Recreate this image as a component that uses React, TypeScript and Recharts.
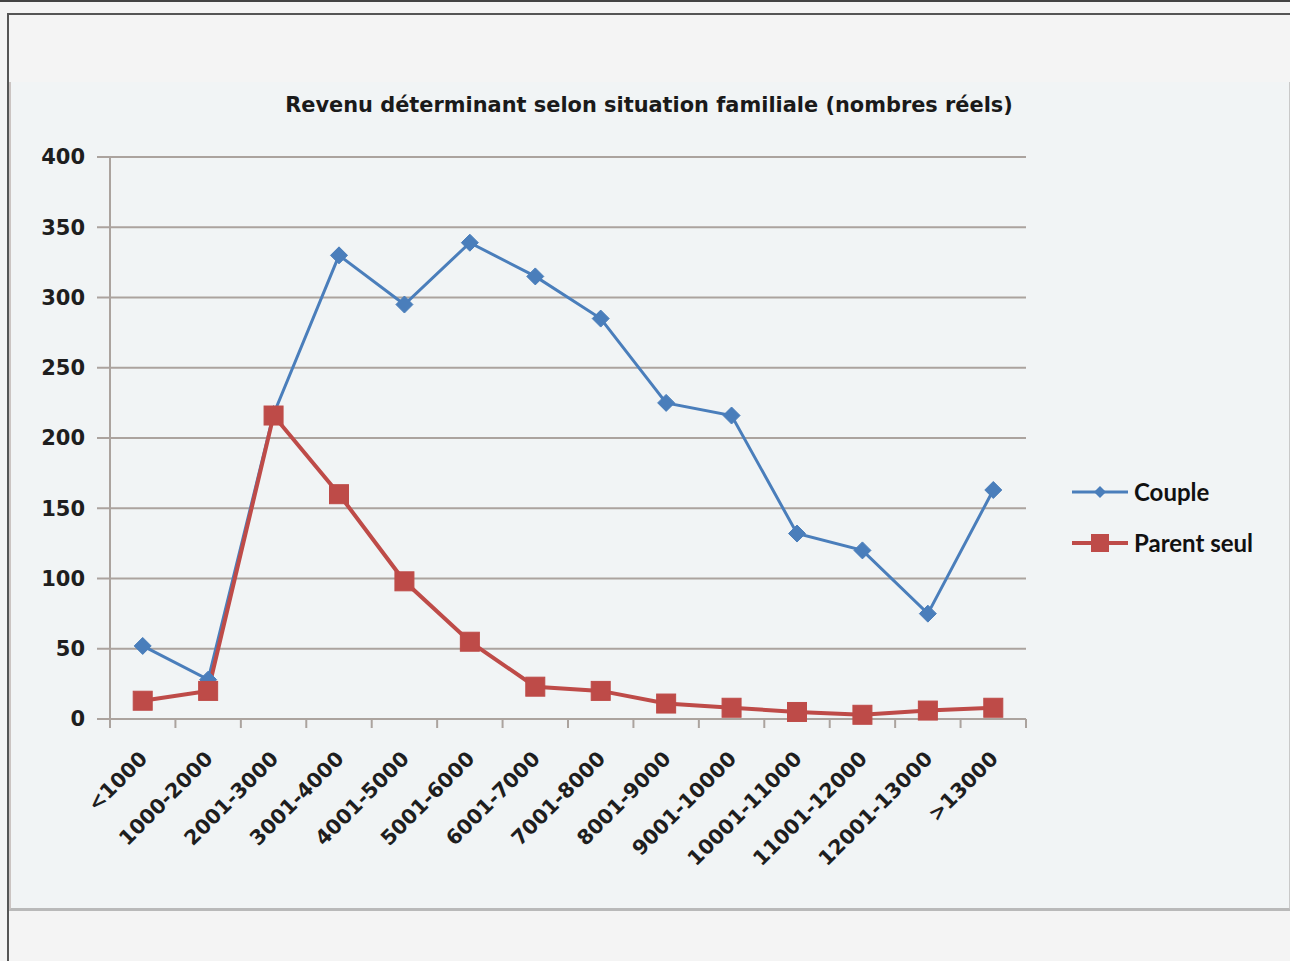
import React from 'react';
import { ComposedChart, Line, XAxis, YAxis, CartesianGrid, Legend } from 'recharts';

// Income brackets (CHF) on the horizontal axis
const categories = [
  '<1000', '1000-2000', '2001-3000', '3001-4000', '4001-5000', '5001-6000', '6001-7000',
  '7001-8000', '8001-9000', '9001-10000', '10001-11000', '11001-12000', '12001-13000', '>13000',
];
// Number of households per bracket
const couple = [52, 28, 217, 330, 295, 339, 315, 285, 225, 216, 132, 120, 75, 163];
const parentSeul = [13, 20, 216, 160, 98, 55, 23, 20, 11, 8, 5, 3, 6, 8];
const yTicks = [0, 50, 100, 150, 200, 250, 300, 350, 400];
// Bracket boundaries, used only for the tick marks under the axis
const edgeTicks = [0, 1, 2, 3, 4, 5, 6, 7, 8, 9, 10, 11, 12, 13, 14];

const BLUE = '#4a7ebb';
const RED = '#be4b48';
const GRID = '#aba39e';
const FONT = "'DejaVu Sans', Verdana, sans-serif";

const data = categories.map((cat, i) => ({
  cat,
  slot: i + 0.5,
  couple: couple[i],
  parentSeul: parentSeul[i],
}));

const Diamond = (props: any) => {
  const { cx, cy } = props;
  if (cx == null || cy == null) return null;
  const r = 8.5;
  return (
    <polygon
      points={`${cx},${cy - r} ${cx + r},${cy} ${cx},${cy + r} ${cx - r},${cy}`}
      fill={BLUE}
      stroke={BLUE}
      strokeWidth={1}
    />
  );
};

const Square = (props: any) => {
  const { cx, cy } = props;
  if (cx == null || cy == null) return null;
  const s = 19;
  return <rect x={cx - s / 2} y={cy - s / 2} width={s} height={s} fill={RED} stroke={RED} strokeWidth={1} />;
};

const NoLabel = () => null;

const CatTick = (props: any) => {
  const { x, y, payload } = props;
  const ax = x + 6;
  const ay = y + 32;
  return (
    <text
      x={ax}
      y={ay}
      transform={`rotate(-45, ${ax}, ${ay})`}
      textAnchor="end"
      fontFamily={FONT}
      fontWeight="bold"
      fontSize={20.5}
      fill="#1e1e1e"
    >
      {payload.value}
    </text>
  );
};

const LegendBox = (props: any) => {
  const { payload } = props;
  return (
    <div style={{ fontFamily: 'Lato, sans-serif', fontWeight: 700, fontSize: 24, color: '#111' }}>
      {(payload || []).map((p: any) => {
        const isCouple = p.dataKey === 'couple';
        return (
          <div key={p.dataKey} style={{ display: 'flex', alignItems: 'center', height: 51 }}>
            <svg width={62} height={24} style={{ display: 'block' }}>
              <line x1={0} y1={12} x2={56} y2={12} stroke={p.color} strokeWidth={isCouple ? 3 : 4} />
              {isCouple ? (
                <polygon points="28,6 34,12 28,18 22,12" fill={p.color} />
              ) : (
                <rect x={19} y={3} width={18} height={18} fill={p.color} />
              )}
            </svg>
            <span style={{ lineHeight: 1 }}>{p.value}</span>
          </div>
        );
      })}
    </div>
  );
};

export default function App() {
  return (
    <div
      style={{
        position: 'absolute',
        left: 0,
        top: 0,
        width: 1290,
        height: 961,
        background: '#f4f4f4',
        overflow: 'hidden',
      }}
    >
      <div style={{ position: 'absolute', left: 0, top: 0, width: 1290, height: 2, background: '#444' }} />
      <div style={{ position: 'absolute', left: 8, top: 13, width: 1282, height: 2, background: '#555' }} />
      <div style={{ position: 'absolute', left: 7, top: 13, width: 2, height: 948, background: '#555' }} />
      <div
        style={{
          position: 'absolute',
          left: 9,
          top: 82,
          width: 1278,
          height: 826,
          background: '#f1f4f5',
          borderRight: '3px solid #c9c9c9',
          borderBottom: '3px solid #b9b9b9',
          borderLeft: '2px solid #cbc4c2',
        }}
      >
        <div
          style={{
            position: 'absolute',
            left: 0,
            top: 11,
            width: 1280,
            textAlign: 'center',
            fontFamily: FONT,
            fontWeight: 'bold',
            fontSize: 20.9,
            color: '#1a1a1a',
          }}
        >
          <span style={{ position: 'relative', left: -2 }}>
            Revenu déterminant selon situation familiale (nombres réels)
          </span>
        </div>
        <ComposedChart
          width={1278}
          height={826}
          data={data}
          margin={{ top: 75, right: 40, left: 0, bottom: 0 }}
          style={{ position: 'absolute', left: -3, top: 0 }}
        >
          <CartesianGrid horizontal vertical={false} stroke={GRID} strokeWidth={2} />
          <XAxis
            xAxisId="bounds"
            dataKey="slot"
            type="number"
            domain={[0, 14]}
            allowDataOverflow
            ticks={edgeTicks}
            interval={0}
            height={1}
            tick={<NoLabel />}
            tickSize={9}
            axisLine={{ stroke: GRID, strokeWidth: 2 }}
            tickLine={{ stroke: GRID, strokeWidth: 2 }}
          />
          <XAxis
            xAxisId="labels"
            dataKey="cat"
            scale="band"
            interval={0}
            height={188}
            axisLine={false}
            tickLine={false}
            tick={<CatTick />}
          />
          <YAxis
            width={102}
            domain={[0, 400]}
            ticks={yTicks}
            interval={0}
            tickSize={13}
            tickMargin={12}
            axisLine={{ stroke: GRID, strokeWidth: 2 }}
            tickLine={{ stroke: GRID, strokeWidth: 2 }}
            tick={{ fontFamily: FONT, fontWeight: 'bold', fontSize: 21, fill: '#1e1e1e' }}
          />
          <Legend
            layout="vertical"
            align="right"
            verticalAlign="middle"
            content={<LegendBox />}
            wrapperStyle={{ position: 'absolute', left: 1064, top: 384, width: 220 }}
          />
          <Line
            xAxisId="labels"
            dataKey="couple"
            name="Couple"
            stroke={BLUE}
            strokeWidth={3}
            dot={<Diamond />}
            activeDot={false}
            isAnimationActive={false}
          />
          <Line
            xAxisId="labels"
            dataKey="parentSeul"
            name="Parent seul"
            stroke={RED}
            strokeWidth={4}
            dot={<Square />}
            activeDot={false}
            isAnimationActive={false}
          />
        </ComposedChart>
      </div>
    </div>
  );
}
